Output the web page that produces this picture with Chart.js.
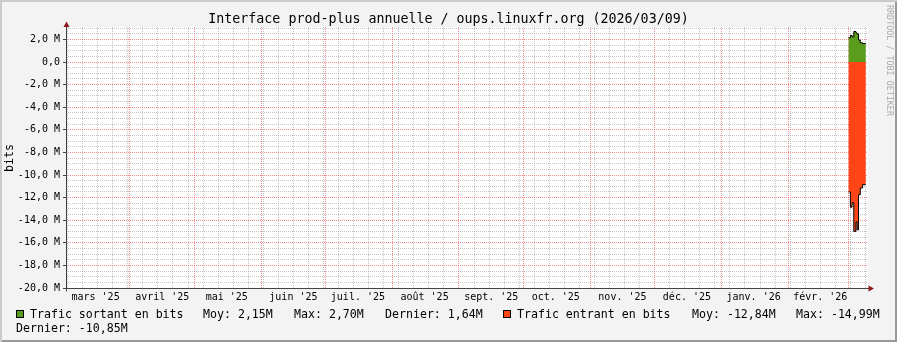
<!DOCTYPE html>
<html>
<head>
<meta charset="utf-8">
<script src="https://cdn.jsdelivr.net/npm/chart.js@4.4.1/dist/chart.umd.min.js"></script>
<style>
  body { margin: 0; background: #f3f3f3; }
  #frame {
    position: relative; width: 897px; height: 342px; overflow: hidden;
    background: #f3f3f3;
    box-shadow: inset 2px 2px 0 #cbcbcb, inset -2px -2px 0 #999;
    font-family: "DejaVu Sans Mono", monospace; color: #000;
  }
  #chart { position: absolute; left: 0; top: 0; }
  .txt { position: absolute; white-space: pre; line-height: 1; }
  #title { left: 0; width: 897px; top: 12px; text-align: center; font-size: 13.3px; }
  #ylabel { left: 4px; top: 158px; font-size: 11.6px; transform-origin: 0 0; transform: rotate(-90deg) translate(-50%, 0); }
  #credit { left: 894px; top: 5px; font-size: 8.4px; color: #aaa; transform-origin: 0 0; transform: rotate(90deg); }
  .leg { font-size: 11.6px; top: 309px; }
  .leg2 { font-size: 11.6px; top: 323px; }
  .box { position: absolute; width: 6px; height: 6px; border: 1px solid #000; top: 310px; }
</style>
</head>
<body>
<div id="frame">
  <canvas id="chart" width="897" height="342"></canvas>
  <div class="txt" id="title">Interface prod-plus annuelle / oups.linuxfr.org (2026/03/09)</div>
  <div class="txt" id="ylabel">bits</div>
  <div class="txt" id="credit">RRDTOOL / TOBI OETIKER</div>

  <div class="box" style="left:16px; background:#5a9c1c"></div>
  <div class="txt leg" style="left:30px">Trafic sortant en bits</div>
  <div class="txt leg" style="left:203px">Moy: 2,15M</div>
  <div class="txt leg" style="left:294px">Max: 2,70M</div>
  <div class="txt leg" style="left:385px">Dernier: 1,64M</div>
  <div class="box" style="left:503px; background:#ff4515"></div>
  <div class="txt leg" style="left:517px">Trafic entrant en bits</div>
  <div class="txt leg" style="left:692px">Moy: -12,84M</div>
  <div class="txt leg" style="left:796px">Max: -14,99M</div>
  <div class="txt leg2" style="left:16px">Dernier: -10,85M</div>
</div>
<script>
'use strict';

// days counted from 2025-03-01
const monthLabels = ["mars '25", "avril '25", "mai '25", "juin '25", "juil. '25", "août '25",
  "sept. '25", "oct. '25", "nov. '25", "déc. '25", "janv. '26", "févr. '26"];
const monthStarts = [0, 31, 61, 92, 122, 153, 184, 214, 245, 275, 306, 337, 365];
const firstMonday = 2;
const xMin = 1.25;
const xMax = 374.2;

// sample times (days) and values in Mbit/s, step after each time
const sampleDays = [365.1, 366.0, 366.8, 367.6, 368.6, 369.1, 369.8, 370.6, 371.7, 373.2];
const outbound = [2.14, 2.36, 2.22, 2.70, 2.58, 2.49, 1.95, 1.70, 1.64];
const inbound = [-11.50, -12.85, -12.45, -14.99, -14.15, -14.85, -11.75, -11.15, -10.85];

const yMajorTicks = [2, 0, -2, -4, -6, -8, -10, -12, -14, -16, -18, -20];
const yMin = -20;
const yMax = 3.1;

const RED_GRID = 'rgba(235, 50, 50, 0.55)';
const GRAY_GRID = 'rgba(140, 140, 140, 0.5)';

function toPoints(values) {
  const pts = values.map((v, i) => ({x: sampleDays[i], y: v}));
  pts.push({x: sampleDays[sampleDays.length - 1], y: values[values.length - 1]});
  return pts;
}

function isMajorY(v) {
  return yMajorTicks.some((m) => Math.abs(m - v) < 1e-9);
}

const rrdFrame = {
  id: 'rrdFrame',
  beforeDraw(chart) {
    const {ctx, chartArea: a} = chart;
    ctx.save();
    ctx.fillStyle = '#ffffff';
    ctx.fillRect(a.left, a.top, a.right - a.left, a.bottom - a.top);
    ctx.restore();
  },
  afterDraw(chart) {
    const {ctx, chartArea: a} = chart;
    const ax = Math.round(a.left) + 0.5;
    const ay = Math.round(a.bottom) + 0.5;
    ctx.save();
    ctx.strokeStyle = '#444';
    ctx.lineWidth = 1;
    ctx.beginPath();
    ctx.moveTo(ax, a.top - 1);
    ctx.lineTo(ax, ay + 3);
    ctx.moveTo(ax - 3, ay);
    ctx.lineTo(a.right + 2, ay);
    ctx.stroke();
    ctx.fillStyle = '#8b1a1a';
    ctx.beginPath();
    ctx.moveTo(ax, a.top - 5.5);
    ctx.lineTo(ax - 3, a.top);
    ctx.lineTo(ax + 3, a.top);
    ctx.closePath();
    ctx.fill();
    ctx.beginPath();
    ctx.moveTo(a.right + 6, ay);
    ctx.lineTo(a.right + 0.5, ay - 3);
    ctx.lineTo(a.right + 0.5, ay + 3);
    ctx.closePath();
    ctx.fill();
    ctx.restore();
  }
};

const ctx = document.getElementById('chart').getContext('2d');
new Chart(ctx, {
  type: 'line',
  data: {
    datasets: [{
      label: 'Trafic sortant en bits',
      data: toPoints(outbound),
      stepped: true,
      fill: 'origin',
      backgroundColor: '#5a9c1c',
      borderColor: '#000',
      borderWidth: 1,
      pointRadius: 0,
    }, {
      label: 'Trafic entrant en bits',
      data: toPoints(inbound),
      stepped: true,
      fill: 'origin',
      backgroundColor: '#ff4515',
      borderColor: '#000',
      borderWidth: 1,
      pointRadius: 0,
    }]
  },
  options: {
    responsive: false,
    animation: false,
    events: [],
    layout: {padding: {top: 27, right: 29, bottom: 0, left: 0}},
    plugins: {legend: {display: false}, title: {display: false}, tooltip: {enabled: false}},
    scales: {
      x: {
        type: 'linear',
        position: 'bottom',
        min: xMin,
        max: xMax,
        afterBuildTicks: (scale) => {
          const days = new Set(monthStarts.filter((d) => d > xMin && d < xMax));
          for (let d = firstMonday; d < xMax; d += 7) {
            if (d > xMin) days.add(d);
          }
          scale.ticks = [...days].sort((a, b) => a - b).map((v) => ({value: v}));
        },
        afterFit: (scale) => { scale.height = 0; },
        ticks: {display: false},
        grid: {
          drawTicks: false,
          color: (c) => monthStarts.includes(c.tick.value) ? RED_GRID : GRAY_GRID,
        },
        border: {display: false, dash: [1, 1]},
      },
      xm: {
        type: 'linear',
        position: 'bottom',
        min: xMin,
        max: xMax,
        afterBuildTicks: (scale) => {
          scale.ticks = monthLabels.map((l, i) => ({value: monthStarts[i] + 15}));
        },
        afterFit: (scale) => { scale.height = 54; },
        ticks: {
          autoSkip: false,
          maxRotation: 0,
          padding: 3,
          color: '#000',
          font: {family: 'DejaVu Sans Mono', size: 10},
          callback: (v, i) => monthLabels[i],
        },
        grid: {display: false, drawTicks: false},
        border: {display: false},
      },
      y: {
        type: 'linear',
        min: yMin,
        max: yMax,
        afterBuildTicks: (scale) => {
          const t = [];
          for (let v = yMin; v <= yMax + 1e-9; v += 0.5) t.push({value: Math.round(v * 2) / 2});
          scale.ticks = t;
        },
        afterFit: (scale) => { scale.width = 66; },
        ticks: {
          autoSkip: false,
          padding: 3,
          color: '#000',
          font: {family: 'DejaVu Sans Mono', size: 10},
          callback: (v) => {
            if (!isMajorY(v)) return '';
            if (v === 0) return '0,0';
            return v.toFixed(1).replace('.', ',') + ' M';
          },
        },
        grid: {
          tickLength: 3,
          color: (c) => isMajorY(c.tick.value) ? RED_GRID : GRAY_GRID,
          tickColor: (c) => isMajorY(c.tick.value) ? '#444' : 'rgba(0,0,0,0)',
        },
        border: {display: false, dash: [1, 1]},
      }
    }
  },
  plugins: [rrdFrame]
});
</script>
</body>
</html>
